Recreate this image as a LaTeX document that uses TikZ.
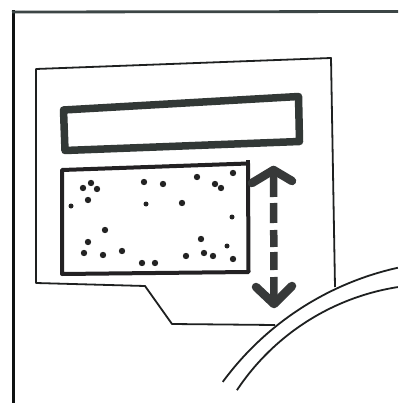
\documentclass[tikz,border=0pt]{standalone}
\begin{document}
\begin{tikzpicture}[x=1pt,y=-1pt,
  ink/.style={draw={rgb,255:red,30;green,32;blue,32}},
  thin ink/.style={ink,line width=1.8pt,line join=round},
  bar/.style={draw={rgb,255:red,50;green,56;blue,54},line width=7.5pt,line join=round},
  sandbox/.style={draw={rgb,255:red,35;green,33;blue,35},line width=4pt,line join=round},
  chev/.style={draw={rgb,255:red,55;green,57;blue,57},line width=8.5pt,line cap=round,line join=round},
  shaft/.style={draw={rgb,255:red,55;green,57;blue,57},line width=7.5pt},
  dot/.style={fill={rgb,255:red,35;green,35;blue,35}}]
\useasboundingbox[fill=white] (0,0) rectangle (398,403);
% outer frame
\draw[draw={rgb,255:red,15;green,17;blue,17},line width=3.3pt] (13.5,403) -- (13.5,10.5);
\draw[draw={rgb,255:red,60;green,70;blue,70},line width=2.8pt] (12,12) -- (398,11.5);
% inner panel (callout)
\coordinate (ptl) at (36,69);
\coordinate (ptr) at (331,58);
\coordinate (pbr) at (335,287);
\coordinate (pbl) at (36,283);
\coordinate (pk1) at (145,286);
\coordinate (pk2) at (172,324);
\coordinate (pend) at (275,325);
\draw[thin ink] (pbr) -- (ptr) -- (ptl) -- (pbl) -- (pk1) -- (pk2) -- (pend);
% thick top bar
\draw[bar] (63.5,110) -- (298.5,96.5) -- (299.5,141.5) -- (65,150.5) -- cycle;
% lower box
\draw[sandbox] (62,170) -- (248,163.5) -- (248.5,272) -- (62,274) -- cycle;
\draw[sandbox] (248,163.5) -- (248,160);
% dots
\foreach \p in {(83,188),(91,183),(97,189),(88,200),(144,182),(163,184),(197,177),(215,184),(221,188),(233,173),(182,203),(105,230),(88,242),(84,253),(103,255),(122,251),(142,263),(155,263),(186,256),(201,239),(204,253),(213,256),(233,259)}
  \fill[dot] \p circle (3.2);
\foreach \p in {(71,206),(146,204),(232,217),(227,246)}
  \fill[dot] \p circle (2.5);
% double arrow
\coordinate (atop) at (273.5,170);
\coordinate (abot) at (274,304);
\draw[shaft,dash pattern=on 27pt off 6pt on 20pt off 7pt on 17pt off 5pt on 18pt off 7pt on 40pt] (atop) -- (abot);
\draw[chev] (252,183) -- (atop) -- (292,181);
\draw[chev] (256,287) -- (abot) -- (292,286);
% arcs
\draw[thin ink] plot[domain=216.3:257.5,samples=40,smooth] ({462.1+297*cos(\x)},{557.7+297*sin(\x)});
\draw[thin ink] plot[domain=213.6:261.1,samples=40,smooth] ({434.5+237.2*cos(\x)},{521.4+237.2*sin(\x)});
\end{tikzpicture}
\end{document}
